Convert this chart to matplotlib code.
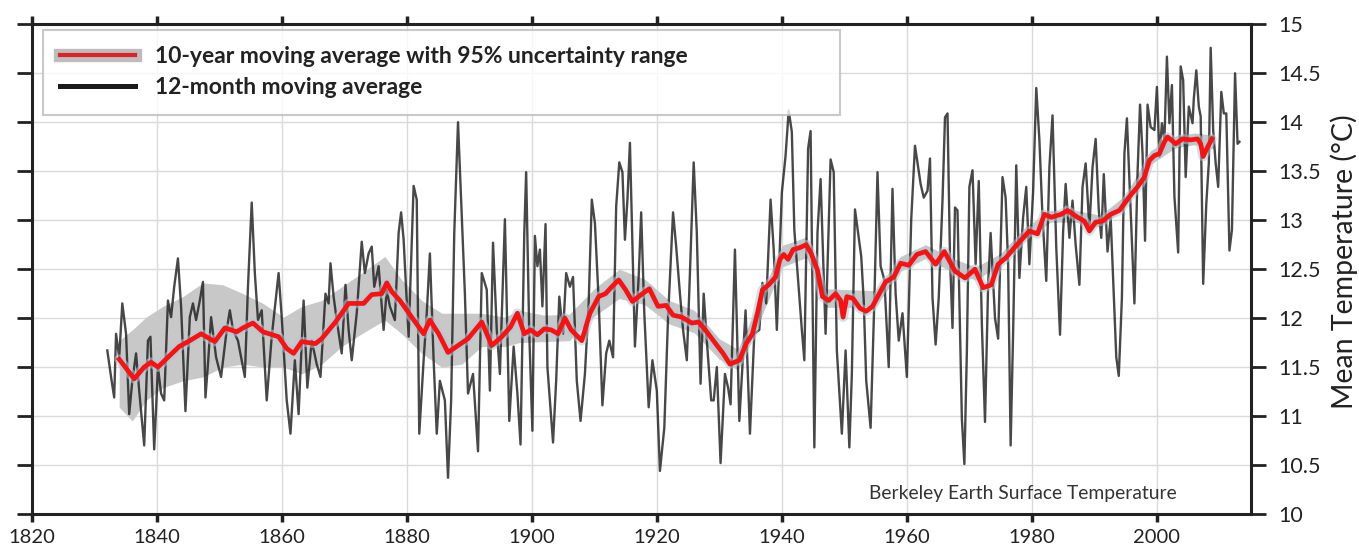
import matplotlib

matplotlib.use("Agg")
import matplotlib.pyplot as plt
from matplotlib.lines import Line2D

plt.rcParams["font.family"] = ["Lato", "DejaVu Sans"]

# 12-month moving average (turning points)
monthly_years = [
    1832.1, 1832.7, 1833.2, 1833.5, 1834.0, 1834.5, 1835.1, 1835.6, 1836.1, 1836.7,
    1837.2, 1838.0, 1838.6, 1839.0, 1839.6, 1840.2, 1840.7, 1841.2, 1841.8, 1842.3,
    1842.8, 1843.4, 1843.9, 1844.6, 1845.3, 1845.8, 1846.3, 1846.9, 1847.4, 1847.8,
    1848.2, 1848.7, 1849.5, 1850.3, 1851.2, 1851.7, 1852.2, 1853.0, 1854.1, 1854.6,
    1855.2, 1855.7, 1856.2, 1856.8, 1857.6, 1858.4, 1859.5, 1860.0, 1860.8, 1861.4,
    1862.1, 1862.7, 1863.5, 1864.1, 1864.8, 1865.6, 1866.2, 1867.0, 1867.5, 1867.8,
    1868.3, 1868.8, 1869.6, 1870.2, 1870.7, 1871.2, 1872.0, 1872.8, 1873.3, 1873.9,
    1874.4, 1874.8, 1875.5, 1876.3, 1876.8, 1877.3, 1878.1, 1878.7, 1879.1, 1879.5,
    1879.8, 1880.3, 1881.1, 1881.6, 1882.0, 1882.7, 1883.2, 1883.7, 1884.3, 1884.8,
    1885.3, 1886.1, 1886.6, 1887.1, 1887.6, 1888.2, 1888.8, 1889.3, 1889.8, 1890.6,
    1891.4, 1892.0, 1892.8, 1893.3, 1893.8, 1894.4, 1894.9, 1895.7, 1896.4, 1897.1,
    1897.7, 1898.2, 1898.8, 1899.1, 1899.6, 1900.1, 1900.5, 1900.9, 1901.3, 1901.7,
    1902.2, 1902.5, 1903.4, 1903.9, 1904.4, 1905.0, 1905.5, 1906.1, 1906.6, 1907.2,
    1907.8, 1908.5, 1909.1, 1909.6, 1910.1, 1910.7, 1911.3, 1911.9, 1912.4, 1913.0,
    1913.5, 1914.0, 1914.5, 1914.9, 1915.3, 1915.7, 1916.1, 1916.5, 1917.1, 1917.5,
    1918.0, 1918.7, 1919.3, 1920.0, 1920.5, 1921.2, 1921.8, 1922.6, 1923.1, 1923.7,
    1924.2, 1924.8, 1925.3, 1925.9, 1926.4, 1927.0, 1927.5, 1928.0, 1928.7, 1929.1,
    1929.6, 1930.2, 1930.9, 1931.4, 1931.8, 1932.5, 1933.2, 1934.2, 1934.9, 1935.6,
    1936.4, 1936.9, 1937.5, 1938.2, 1938.7, 1939.2, 1940.0, 1940.6, 1941.1, 1941.6,
    1942.0, 1942.6, 1943.2, 1943.6, 1944.2, 1944.6, 1945.2, 1945.7, 1946.2, 1947.0,
    1947.8, 1948.3, 1948.8, 1949.6, 1950.2, 1950.8, 1951.2, 1951.7, 1952.2, 1952.7,
    1953.1, 1953.5, 1954.2, 1954.8, 1955.3, 1955.8, 1956.4, 1957.1, 1957.7, 1958.2,
    1958.7, 1959.3, 1960.0, 1960.7, 1961.3, 1962.2, 1962.7, 1963.3, 1963.7, 1964.1,
    1964.6, 1965.1, 1965.7, 1966.1, 1966.5, 1966.9, 1967.3, 1967.7, 1968.1, 1968.8,
    1969.2, 1969.6, 1970.0, 1970.5, 1971.0, 1971.5, 1972.0, 1972.5, 1973.0, 1973.4,
    1974.1, 1974.6, 1975.3, 1975.8, 1976.2, 1976.6, 1977.0, 1977.5, 1978.0, 1978.6,
    1979.1, 1979.6, 1980.2, 1980.7, 1981.2, 1981.7, 1982.3, 1982.8, 1983.3, 1983.9,
    1984.5, 1985.0, 1985.4, 1986.0, 1986.5, 1987.0, 1987.6, 1988.1, 1988.6, 1989.2,
    1989.7, 1990.2, 1990.7, 1991.1, 1991.5, 1992.1, 1992.6, 1993.5, 1993.9, 1994.4,
    1994.8, 1995.2, 1995.6, 1996.0, 1996.4, 1996.9, 1997.3, 1997.7, 1998.1, 1998.5,
    1999.0, 1999.6, 2000.0, 2000.4, 2000.8, 2001.2, 2001.6, 2002.0, 2002.4, 2002.8,
    2003.4, 2003.8, 2004.2, 2004.6, 2005.1, 2005.7, 2005.9, 2006.3, 2006.7, 2007.0,
    2007.4, 2007.9, 2008.3, 2008.6, 2009.0, 2009.4, 2009.8, 2010.3, 2010.7, 2011.1,
    2011.6, 2012.0, 2012.5, 2012.9, 2013.2,
]
monthly_temp = [
    11.67, 11.40, 11.19, 11.84, 11.60, 12.15, 11.84, 11.02, 11.36, 11.64,
    11.26, 10.70, 11.77, 11.81, 10.66, 11.50, 11.23, 11.16, 12.18, 12.01,
    12.32, 12.61, 12.12, 11.05, 12.01, 12.15, 11.98, 12.18, 12.37, 11.19,
    11.53, 12.01, 11.60, 11.40, 11.88, 12.08, 11.88, 11.77, 11.40, 12.32,
    13.18, 12.46, 11.98, 12.08, 11.16, 11.81, 12.46, 12.01, 11.16, 10.82,
    11.57, 11.02, 12.18, 11.29, 11.77, 11.53, 11.40, 12.25, 12.15, 12.56,
    12.22, 11.98, 11.64, 12.34, 11.88, 11.57, 12.05, 12.78, 12.46, 12.66,
    12.73, 12.32, 12.53, 11.88, 12.29, 12.12, 11.98, 12.87, 13.08, 12.80,
    12.42, 11.81, 13.35, 13.21, 10.82, 11.57, 12.05, 12.66, 11.57, 10.82,
    11.36, 11.16, 10.37, 11.16, 12.87, 14.00, 13.04, 12.25, 11.23, 11.43,
    10.64, 12.46, 12.29, 11.26, 12.77, 11.88, 11.43, 13.01, 10.95, 11.71,
    11.23, 10.71, 12.87, 13.49, 11.84, 10.85, 12.84, 12.53, 12.70, 12.12,
    12.96, 11.50, 10.73, 11.36, 12.22, 11.84, 12.46, 12.32, 12.42, 11.36,
    10.95, 11.43, 12.15, 13.21, 12.97, 12.18, 11.11, 11.64, 11.77, 11.60,
    13.14, 13.59, 13.49, 12.80, 13.21, 13.79, 12.73, 11.71, 12.42, 13.08,
    12.05, 11.09, 11.57, 11.26, 10.44, 10.88, 12.01, 13.08, 12.73, 12.25,
    11.88, 11.57, 12.46, 13.59, 12.87, 11.33, 12.25, 11.77, 11.16, 11.16,
    11.50, 10.52, 11.43, 11.29, 11.12, 12.70, 10.95, 12.08, 10.82, 11.84,
    11.88, 12.36, 12.15, 13.21, 12.70, 11.88, 13.28, 13.66, 14.12, 13.90,
    12.90, 12.39, 11.88, 11.57, 13.73, 13.91, 10.68, 12.87, 13.42, 11.84,
    13.62, 13.49, 11.67, 10.82, 11.67, 10.68, 11.43, 13.11, 12.87, 12.63,
    12.18, 11.36, 10.88, 12.18, 13.49, 12.53, 12.39, 11.50, 13.32, 12.25,
    11.77, 12.05, 11.40, 13.01, 13.76, 13.37, 13.23, 13.30, 13.63, 12.21,
    11.73, 12.21, 13.20, 14.05, 14.09, 12.62, 11.90, 13.13, 13.10, 10.97,
    10.51, 11.66, 13.34, 13.51, 12.55, 13.40, 11.93, 10.94, 12.34, 12.87,
    12.00, 11.79, 13.44, 13.23, 12.55, 10.70, 11.86, 13.56, 12.41, 13.03,
    13.34, 12.55, 13.30, 14.35, 13.82, 13.03, 12.38, 13.54, 14.07, 12.72,
    11.83, 12.89, 13.37, 12.82, 13.20, 12.75, 12.34, 13.34, 13.58, 12.92,
    13.54, 13.83, 13.10, 12.82, 13.47, 12.68, 13.03, 11.60, 11.41, 12.21,
    13.68, 14.04, 13.41, 12.76, 12.15, 13.48, 14.18, 13.68, 12.79, 14.18,
    13.95, 13.92, 14.36, 13.65, 13.99, 13.82, 14.67, 13.99, 14.38, 13.24,
    12.67, 14.57, 14.43, 13.44, 14.16, 13.99, 14.24, 14.53, 14.16, 14.06,
    12.35, 13.17, 13.58, 14.76, 13.92, 13.58, 13.34, 14.31, 14.09, 14.09,
    12.69, 12.90, 14.50, 13.78, 13.80,
]

# 10-year moving average
decade_years = [
    1834.0, 1836.4, 1838.0, 1839.1, 1840.2, 1841.8, 1843.6, 1845.3, 1847.1, 1849.3,
    1850.9, 1852.8, 1853.8, 1855.4, 1857.0, 1859.5, 1860.8, 1861.9, 1863.2, 1865.4,
    1866.4, 1868.6, 1870.7, 1873.1, 1874.4, 1876.0, 1876.8, 1877.6, 1878.9, 1880.8,
    1882.7, 1883.7, 1885.1, 1886.6, 1888.2, 1889.8, 1892.0, 1893.6, 1895.2, 1896.6,
    1897.7, 1898.8, 1899.8, 1900.9, 1902.0, 1903.1, 1904.2, 1905.3, 1906.3, 1908.0,
    1909.3, 1910.7, 1911.8, 1912.8, 1913.9, 1915.0, 1916.1, 1917.5, 1918.8, 1920.2,
    1921.5, 1922.6, 1924.0, 1925.6, 1926.7, 1928.0, 1929.4, 1930.6, 1931.7, 1933.2,
    1934.3, 1935.3, 1936.1, 1936.9, 1937.9, 1939.0, 1939.7, 1940.3, 1941.0, 1941.8,
    1942.9, 1943.9, 1944.7, 1945.7, 1946.5, 1947.5, 1948.6, 1949.4, 1949.8, 1950.4,
    1951.4, 1952.5, 1953.5, 1954.5, 1955.6, 1956.6, 1957.9, 1959.0, 1960.3, 1961.6,
    1963.0, 1964.6, 1966.0, 1967.7, 1969.3, 1970.9, 1972.2, 1973.5, 1974.6, 1975.9,
    1977.2, 1978.6, 1979.6, 1980.9, 1982.0, 1983.1, 1984.7, 1985.7, 1987.3, 1988.4,
    1989.2, 1990.2, 1991.3, 1992.6, 1994.0, 1995.6, 1996.9, 1998.0, 1998.8, 1999.6,
    2000.4, 2001.2, 2001.7, 2003.0, 2004.1, 2005.4, 2006.5, 2007.0, 2007.4, 2007.9,
    2008.3, 2008.8,
]
decade_temp = [
    11.58, 11.38, 11.50, 11.55, 11.50, 11.60, 11.71, 11.77, 11.84, 11.76,
    11.90, 11.86, 11.90, 11.95, 11.86, 11.81, 11.69, 11.64, 11.76, 11.74,
    11.79, 11.96, 12.15, 12.15, 12.24, 12.25, 12.36, 12.27, 12.18, 12.01,
    11.84, 11.98, 11.84, 11.65, 11.72, 11.79, 11.96, 11.72, 11.81, 11.91,
    12.05, 11.84, 11.88, 11.83, 11.89, 11.88, 11.84, 12.00, 11.88, 11.77,
    12.05, 12.22, 12.25, 12.32, 12.39, 12.29, 12.17, 12.24, 12.30, 12.12,
    12.13, 12.03, 12.01, 11.95, 11.96, 11.86, 11.74, 11.64, 11.53, 11.57,
    11.74, 11.84, 12.05, 12.29, 12.34, 12.42, 12.60, 12.65, 12.60, 12.70,
    12.72, 12.75, 12.66, 12.49, 12.22, 12.18, 12.25, 12.18, 12.01, 12.22,
    12.20, 12.10, 12.07, 12.12, 12.25, 12.37, 12.42, 12.56, 12.54, 12.65,
    12.68, 12.55, 12.68, 12.48, 12.41, 12.50, 12.31, 12.34, 12.55, 12.62,
    12.72, 12.82, 12.89, 12.86, 13.06, 13.03, 13.06, 13.10, 13.03, 12.99,
    12.89, 12.98, 12.99, 13.06, 13.10, 13.24, 13.34, 13.44, 13.61, 13.66,
    13.68, 13.80, 13.85, 13.78, 13.83, 13.82, 13.83, 13.78, 13.65, 13.72,
    13.77, 13.83,
]

# 95% uncertainty range of the 10-year average
band_years = [
    1834.0, 1836.1, 1838.3, 1841.0, 1844.2, 1847.4, 1850.6, 1853.8, 1857.0, 1860.3,
    1863.2, 1866.4, 1869.6, 1872.8, 1876.5, 1879.2, 1882.4, 1885.6, 1888.8, 1892.0,
    1895.7, 1898.0, 1902.0, 1906.0, 1910.0, 1914.0, 1918.0, 1922.0, 1926.0, 1930.0,
    1933.0, 1936.0, 1940.0, 1944.0, 1947.0, 1951.0, 1955.0, 1959.0, 1963.0, 1967.0,
    1971.0, 1975.0, 1979.0, 1983.0, 1987.0, 1991.0, 1995.0, 1999.0, 2003.0, 2006.0,
    2009.0,
]
band_low = [
    11.09, 10.95, 11.16, 11.29, 11.36, 11.40, 11.50, 11.53, 11.50, 11.50,
    11.43, 11.53, 11.71, 11.84, 11.98, 11.84, 11.64, 11.50, 11.53, 11.71,
    11.71, 11.75, 11.76, 11.77, 12.02, 12.20, 12.14, 11.94, 11.85, 11.58,
    11.47, 11.90, 12.52, 12.62, 12.11, 12.11, 12.12, 12.48, 12.61, 12.48,
    12.39, 12.54, 12.81, 12.98, 12.98, 12.93, 13.14, 13.57, 13.74, 13.77,
    13.73,
]
band_high = [
    11.77, 11.88, 12.01, 12.12, 12.22, 12.36, 12.34, 12.25, 12.15, 12.01,
    12.12, 12.18, 12.32, 12.46, 12.63, 12.39, 12.18, 12.05, 12.05, 12.05,
    12.01, 12.08, 12.03, 12.04, 12.30, 12.50, 12.40, 12.18, 12.08, 11.79,
    11.68, 12.12, 12.74, 12.83, 12.30, 12.29, 12.28, 12.63, 12.75, 12.62,
    12.52, 12.66, 12.93, 13.10, 13.10, 13.05, 13.26, 13.71, 13.86, 13.89,
    13.87,
]

x_ticks = [1820, 1840, 1860, 1880, 1900, 1920, 1940, 1960, 1980, 2000]
y_ticks = [10, 10.5, 11, 11.5, 12, 12.5, 13, 13.5, 14, 14.5, 15]
y_tick_labels = ["10", "10.5", "11", "11.5", "12", "12.5", "13", "13.5", "14", "14.5", "15"]

fig = plt.figure(figsize=(13.59, 5.46), dpi=100)
ax = fig.add_axes([0.0233, 0.0586, 0.8970, 0.8969])

ax.fill_between(band_years, band_low, band_high, color="#c8c8c8", lw=0, zorder=1)
ax.plot(monthly_years, monthly_temp, color="#1a1a1a", lw=1.7, alpha=0.8, zorder=2)
ax.plot(decade_years, decade_temp, color="#9fd0dc", lw=7, alpha=0.55, zorder=3,
        solid_capstyle="round")
ax.plot(decade_years, decade_temp, color="#ff1010", lw=3.4, zorder=4,
        solid_joinstyle="round")

ax.set_xlim(1820, 2015)
ax.set_ylim(10, 15)
ax.set_xticks(x_ticks)
ax.set_yticks(y_ticks)
ax.set_yticklabels(y_tick_labels)
ax.grid(True, color="#dadada", lw=1.0, zorder=0)
ax.set_axisbelow(True)

for spine in ax.spines.values():
    spine.set_linewidth(2.2)
    spine.set_color("#222222")

ax.tick_params(axis="x", bottom=True, top=True, direction="out", length=5.5,
               width=2.5, color="#222222", pad=5, labelsize=14.5,
               labelcolor="#222222")
ax.tick_params(axis="y", left=True, right=True, labelleft=False, labelright=True,
               direction="out", length=10.5, width=2, color="#222222", pad=9.5,
               labelsize=15.5, labelcolor="#222222")

fig.text(0.9893, 0.52, "Mean Temperature (°C)", rotation=90, ha="center",
         va="center", fontsize=20.5, color="#222222")

ax.text(0.6865, 0.041, "Berkeley Earth Surface Temperature", transform=ax.transAxes,
        fontsize=13.9, color="#333333", va="center", ha="left")

handles = [
    (Line2D([], [], color="#bdbdbd", lw=9.6), Line2D([], [], color="#e0202a", lw=3)),
    Line2D([], [], color="#1a1a1a", lw=3.6),
]
labels = ["10-year moving average with 95% uncertainty range", "12-month moving average"]
leg = ax.legend(handles, labels, loc="upper left", mode="expand",
                bbox_to_anchor=(0.0093, 0.8264, 0.6538, 0.1622), borderaxespad=0,
                frameon=True, fancybox=False, handlelength=3.3, handletextpad=0.87,
                borderpad=0.72, labelspacing=0.42,
                prop={"weight": "bold", "size": 16.5})
leg.get_frame().set_edgecolor("#bcbcbc")
leg.get_frame().set_linewidth(1.5)
for t in leg.get_texts():
    t.set_color("#222222")

plt.savefig("out.png", dpi=100)
plt.close()
